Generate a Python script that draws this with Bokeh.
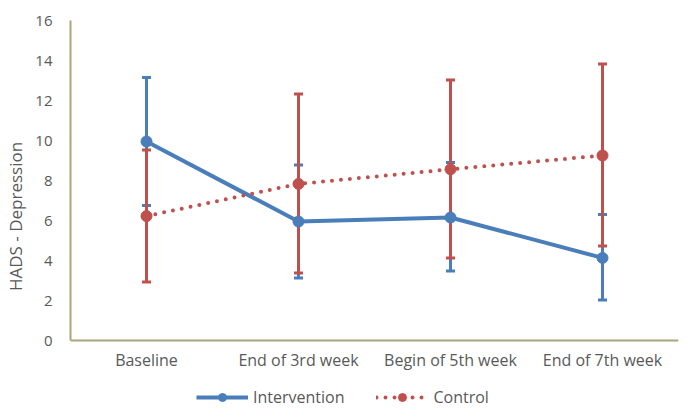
from bokeh.plotting import figure
from bokeh.models import ColumnDataSource, Whisker, TeeHead, Legend, LegendItem
from bokeh.embed import file_html
from bokeh.resources import INLINE

categories = ["Baseline", "End of 3rd week", "Begin of 5th week", "End of 7th week"]
intervention_mean = [9.95, 5.95, 6.15, 4.13]
intervention_upper = [13.15, 8.77, 8.9, 6.3]
intervention_lower = [6.75, 3.13, 3.47, 2.03]
control_mean = [6.22, 7.83, 8.56, 9.25]
control_upper = [9.53, 12.32, 13.02, 13.82]
control_lower = [2.92, 3.37, 4.12, 4.72]
y_ticks = [0, 2, 4, 6, 8, 10, 12, 14, 16]

BLUE = "#4A7EBB"
RED = "#C0504D"
AXIS = "#A9A57C"
TEXT = "#595959"
FONT = "Open Sans"

src_i = ColumnDataSource(dict(x=categories, y=intervention_mean, upper=intervention_upper, lower=intervention_lower))
src_c = ColumnDataSource(dict(x=categories, y=control_mean, upper=control_upper, lower=control_lower))

p = figure(width=695, height=416, x_range=categories, y_range=(-3.6, 16),
           output_backend="svg", toolbar_location=None,
           min_border_left=70, min_border_right=17, min_border_top=20, min_border_bottom=4)
p.outline_line_color = None
p.xgrid.grid_line_color = None
p.ygrid.grid_line_color = None
p.x_range.range_padding = 0

for ax in (p.xaxis[0], p.yaxis[0]):
    ax.axis_line_color = AXIS
    ax.axis_line_width = 2
    ax.major_tick_line_color = None
    ax.minor_tick_line_color = None
    ax.major_label_text_color = TEXT
    ax.major_label_text_font = FONT
    ax.major_label_text_font_size = "15px"

p.xaxis.fixed_location = 0
p.xaxis.major_label_text_font_size = "16px"
p.yaxis.bounds = (0, 16)
p.yaxis.ticker = y_ticks
p.yaxis.major_label_standoff = 12
p.xaxis.major_label_standoff = 2
p.yaxis.axis_label = "HADS - Depression"
p.yaxis.axis_label_text_font = FONT
p.yaxis.axis_label_text_font_size = "17px"
p.yaxis.axis_label_text_font_style = "normal"
p.yaxis.axis_label_text_color = TEXT
p.yaxis.axis_label_standoff = 5

def whisk(src, color):
    w = Whisker(source=src, base="x", upper="upper", lower="lower", dimension="height",
                line_color=color, line_width=3,
                upper_head=TeeHead(size=9, line_color=color, line_width=3),
                lower_head=TeeHead(size=9, line_color=color, line_width=3))
    p.add_layout(w)

whisk(src_i, BLUE)
whisk(src_c, RED)

li = p.line("x", "y", source=src_i, line_color=BLUE, line_width=4)
ci = p.scatter("x", "y", source=src_i, size=11, fill_color=BLUE, line_color=BLUE)
lc = p.line("x", "y", source=src_c, line_color=RED, line_width=4, line_dash="0 9", line_cap="round")
cc = p.scatter("x", "y", source=src_c, size=11, fill_color=RED, line_color=RED)

legend = Legend(items=[LegendItem(label="Intervention", renderers=[li, ci]),
                       LegendItem(label="Control", renderers=[lc, cc])],
                orientation="horizontal", location=(126, 4), padding=4, margin=0,
                label_text_font=FONT, label_text_font_size="16px", label_text_color=TEXT,
                glyph_width=52, spacing=32, label_standoff=5,
                background_fill_alpha=0, border_line_color=None)
p.add_layout(legend, "center")

open("out.html", "w").write(file_html(p, INLINE))
